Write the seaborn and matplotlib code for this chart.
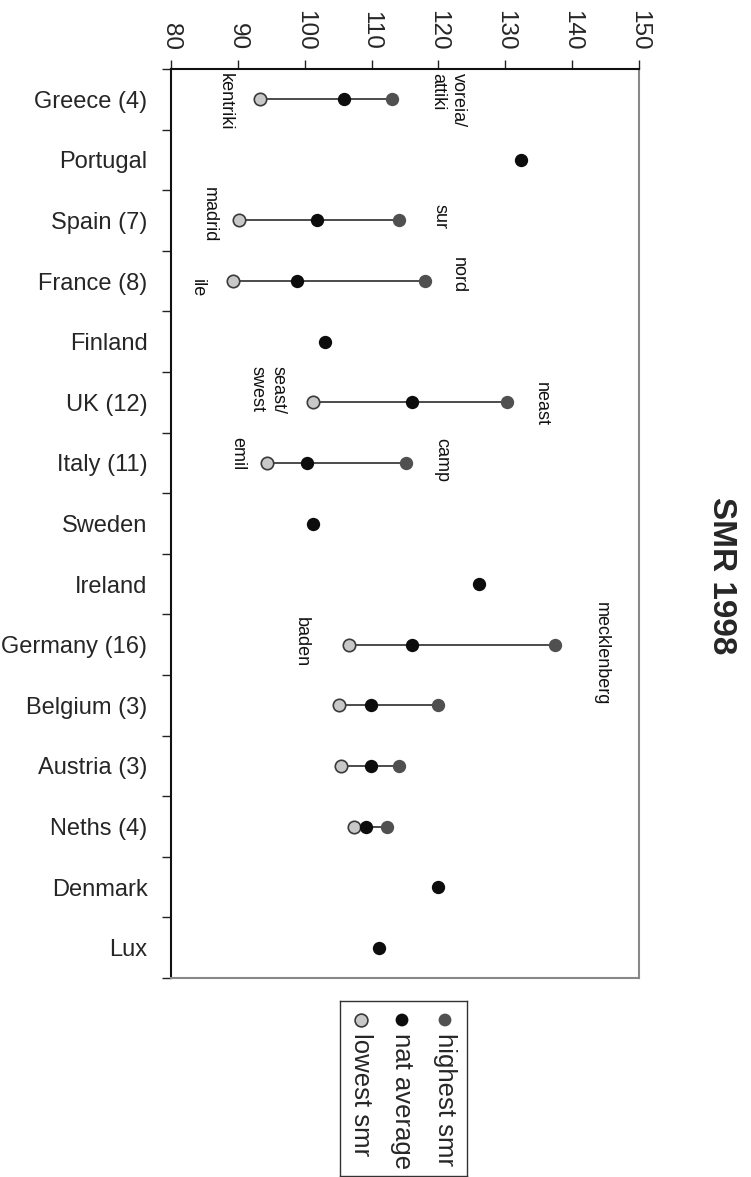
import numpy as np
import pandas as pd
import matplotlib
matplotlib.use("Agg")
import matplotlib.pyplot as plt
import seaborn as sns

# ---- data ----
countries = ["Greece (4)", "Portugal", "Spain (7)", "France (8)", "Finland", "UK (12)",
             "Italy (11)", "Sweden", "Ireland", "Germany (16)", "Belgium (3)",
             "Austria (3)", "Neths (4)", "Denmark", "Lux"]
highest_smr = [113.0, np.nan, 114.1, 118.0, np.nan, 130.2, 115.2, np.nan, np.nan,
               137.4, 120.0, 114.1, 112.3, np.nan, np.nan]
nat_average = [105.9, 132.3, 101.8, 98.8, 103.0, 116.1, 100.3, 101.2, 126.0,
               116.1, 109.9, 109.9, 109.1, 120.0, 111.1]
lowest_smr = [93.3, np.nan, 90.1, 89.2, np.nan, 101.3, 94.3, np.nan, np.nan,
              106.6, 105.1, 105.4, 107.4, np.nan, np.nan]
x_ticks = [80, 90, 100, 110, 120, 130, 140, 150]

# region annotations: (text, country, x value, row offset)
ann_text = ["kentriki", "voreia/\nattiki", "madrid", "sur", "ile", "nord",
            "seast/\nswest", "neast", "emil", "camp", "baden", "mecklenberg"]
ann_country = ["Greece (4)", "Greece (4)", "Spain (7)", "Spain (7)", "France (8)", "France (8)",
               "UK (12)", "UK (12)", "Italy (11)", "Italy (11)", "Germany (16)", "Germany (16)"]
ann_x = [88.1, 121.4, 85.7, 120.2, 84.0, 122.9, 94.4, 135.4, 90.0, 120.5, 99.5, 144.4]
ann_dy = [0.04, 0.01, -0.09, -0.06, 0.12, -0.10, -0.21, 0.03, -0.15, -0.05, -0.05, 0.15]

legend_labels = ["highest smr", "nat average", "lowest smr"]

# ---- style ----
sns.set_style("white")
plt.rcParams["font.family"] = ["Liberation Sans", "DejaVu Sans"]

C_HIGH = "#505050"
C_NAT = "#0d0d0d"
C_LOW = "#c8c8c8"
C_EDGE = "#3a3a3a"

W, H = 751, 1177
fig = plt.figure(figsize=(W / 100, H / 100), dpi=100)
ax = fig.add_axes([171 / W, 1 - 978 / H, 468 / W, 909 / H])

pos = np.arange(len(countries))
df = pd.DataFrame({"country": countries, "pos": pos, "high": highest_smr,
                   "nat": nat_average, "low": lowest_smr})

# connecting lines
rng = df.dropna(subset=["low", "high"])
ax.hlines(rng["pos"], rng["low"], rng["high"], color="#1a1a1a", lw=1.1, zorder=1)

sns.scatterplot(data=df, x="high", y="pos", ax=ax, color=C_HIGH, s=92,
                linewidth=0, zorder=3, legend=False)
sns.scatterplot(data=df, x="nat", y="pos", ax=ax, color=C_NAT, s=92,
                linewidth=0, zorder=4, legend=False)
sns.scatterplot(data=df, x="low", y="pos", ax=ax, color=C_LOW, s=80,
                edgecolor=C_EDGE, linewidth=1.2, zorder=3, legend=False)

ax.set_xlim(80, 150)
ax.set_ylim(len(countries) - 0.5, -0.5)
ax.set_xlabel("")
ax.set_ylabel("")

# x axis on top, rotated labels
ax.xaxis.tick_top()
ax.set_xticks(x_ticks)
ax.set_xticklabels([str(t) for t in x_ticks], rotation=270, fontsize=17.5)
ax.tick_params(axis="x", which="major", direction="out", length=6.5, width=1,
               color="#222222", pad=7, top=True, bottom=False)

# y axis: labels at centres, ticks at boundaries
ax.set_yticks(pos)
ax.set_yticklabels(countries, fontsize=17)
ax.tick_params(axis="y", which="major", length=0, pad=17)
ax.set_yticks(np.arange(-0.5, len(countries), 1.0), minor=True)
ax.tick_params(axis="y", which="minor", direction="out", length=6.5, width=1,
               color="#222222", left=True)

for side in ["left", "top"]:
    ax.spines[side].set_color("#111111")
    ax.spines[side].set_linewidth(1.5)
for side in ["right", "bottom"]:
    ax.spines[side].set_color("#888888")
    ax.spines[side].set_linewidth(1.5)

# annotations
row_of = {c: i for i, c in enumerate(countries)}
for t, c, xv, dy in zip(ann_text, ann_country, ann_x, ann_dy):
    ax.text(xv, row_of[c] + dy, t, rotation=270, ha="center", va="center",
            multialignment="left", fontsize=13, linespacing=1.3, color="#111111")

# title
fig.text(721.5 / W, 1 - 576 / H, "SMR 1998", rotation=270, ha="center", va="center",
         fontsize=24, fontweight="bold")

# legend (rotated, drawn manually)
lax = fig.add_axes([340 / W, 1 - 1176 / H, 127 / W, 175 / H])
lax.set_xlim(340, 467)
lax.set_ylim(1176, 1001)
lax.set_xticks([])
lax.set_yticks([])
for s in lax.spines.values():
    s.set_color("#333333")
    s.set_linewidth(1.0)
leg_x = [445, 402, 361]
leg_col = [C_HIGH, C_NAT, C_LOW]
leg_edge = ["none", "none", C_EDGE]
for lx, lab, col, ec in zip(leg_x, legend_labels, leg_col, leg_edge):
    lax.scatter([lx], [1020], s=85, color=col, edgecolors=ec,
                linewidths=1.2 if ec != "none" else 0)
    lax.text(lx, 1033, lab, rotation=270, ha="center", va="top", fontsize=18.5)

fig.savefig("out.png", dpi=100)
